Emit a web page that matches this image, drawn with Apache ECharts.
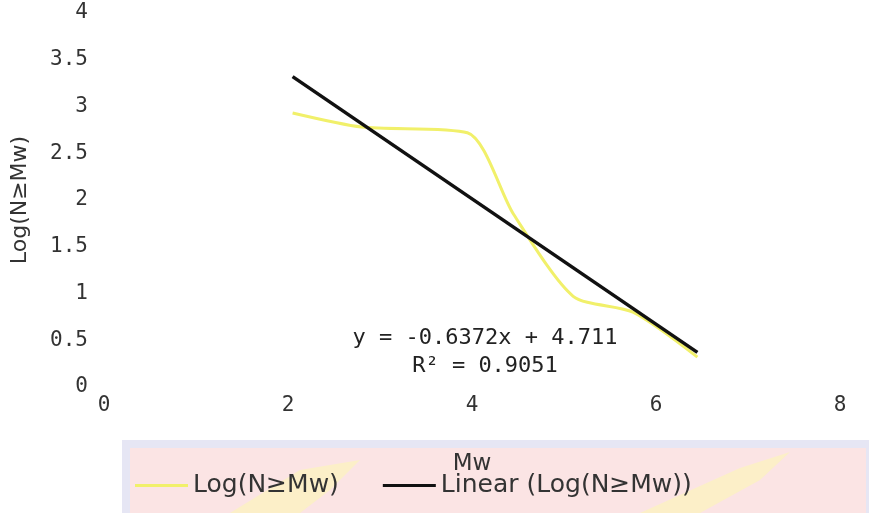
<!DOCTYPE html>
<html>
<head>
<meta charset="utf-8">
<script src="https://cdn.jsdelivr.net/npm/echarts@6/dist/echarts.min.js"></script>
<style>
  html, body { margin: 0; padding: 0; background: #fff; }
  #chart { width: 869px; height: 513px; }
</style>
</head>
<body>
<div id="chart"></div>
<script>
// 观测数据 (Mw, Log(N≥Mw))
const mw = [2.05, 2.8, 3.95, 4.45, 5.1, 5.75, 6.45];
const logN = [2.93, 2.78, 2.72, 1.85, 0.97, 0.80, 0.32];
// 线性趋势线两端
const trendX = [2.05, 6.45];
const trendY = [3.32, 0.37];
const eqText = 'y = -0.6372x + 4.711';
const r2Text = 'R\u00b2 = 0.9051';

const chart = echarts.init(document.getElementById('chart'));
chart.setOption({
  backgroundColor: '#fff',
  animation: false,
  grid: { left: 104, right: 29, top: 13, bottom: 126 },
  xAxis: {
    type: 'value', min: 0, max: 8, interval: 2,
    name: 'Mw', nameLocation: 'middle', nameGap: 66,
    nameTextStyle: { fontFamily: 'DejaVu Sans', fontSize: 23, color: '#333' },
    axisLine: { show: false }, axisTick: { show: false }, splitLine: { show: false },
    axisLabel: { margin: 8, fontFamily: 'DejaVu Sans Mono', fontSize: 21, color: '#333' }
  },
  yAxis: {
    type: 'value', min: 0, max: 4, interval: 0.5,
    name: 'Log(N\u2265Mw)', nameLocation: 'middle', nameGap: 73, nameRotate: 90,
    nameTextStyle: { fontFamily: 'DejaVu Sans', fontSize: 22, color: '#333' },
    axisLine: { show: false }, axisTick: { show: false }, splitLine: { show: false },
    axisLabel: { margin: 16, fontFamily: 'DejaVu Sans Mono', fontSize: 21, color: '#333' }
  },
  legend: {
    left: 130, top: 468, itemWidth: 53, itemHeight: 3, itemGap: 44,
    icon: 'rect',
    textStyle: { fontFamily: 'DejaVu Sans', fontSize: 25, color: '#333' },
    data: ['Log(N\u2265Mw)', 'Linear (Log(N\u2265Mw))']
  },
  graphic: [
    { type: 'rect', z: -10, shape: { x: 122, y: 440, width: 747, height: 73 }, style: { fill: '#e6e6f4' } },
    { type: 'rect', z: -9, shape: { x: 130, y: 448, width: 736, height: 65 }, style: { fill: '#fbe4e4' } },
    { type: 'polygon', z: -8, shape: { points: [[230, 513], [300, 470], [360, 460], [330, 490], [300, 513]] }, style: { fill: '#fcefc8' } },
    { type: 'polygon', z: -8, shape: { points: [[640, 513], [740, 468], [790, 452], [760, 480], [700, 513]] }, style: { fill: '#fcefc8' } },
    { type: 'text', style: { x: 485, y: 338, text: eqText, textAlign: 'center', textVerticalAlign: 'middle', fontFamily: 'DejaVu Sans Mono', fontSize: 22, fill: '#222' } },
    { type: 'text', style: { x: 485, y: 366, text: r2Text, textAlign: 'center', textVerticalAlign: 'middle', fontFamily: 'DejaVu Sans Mono', fontSize: 22, fill: '#222' } }
  ],
  series: [
    {
      name: 'Log(N\u2265Mw)',
      type: 'line',
      smooth: 0.25,
      symbol: 'none',
      data: mw.map((x, i) => [x, logN[i]]),
      lineStyle: { color: '#f1f06a', width: 3 },
      itemStyle: { color: '#f1f06a' }
    },
    {
      name: 'Linear (Log(N\u2265Mw))',
      type: 'line',
      symbol: 'none',
      data: trendX.map((x, i) => [x, trendY[i]]),
      lineStyle: { color: '#111', width: 3.5 },
      itemStyle: { color: '#111' },
      z: 3
    }
  ]
});
</script>
</body>
</html>
